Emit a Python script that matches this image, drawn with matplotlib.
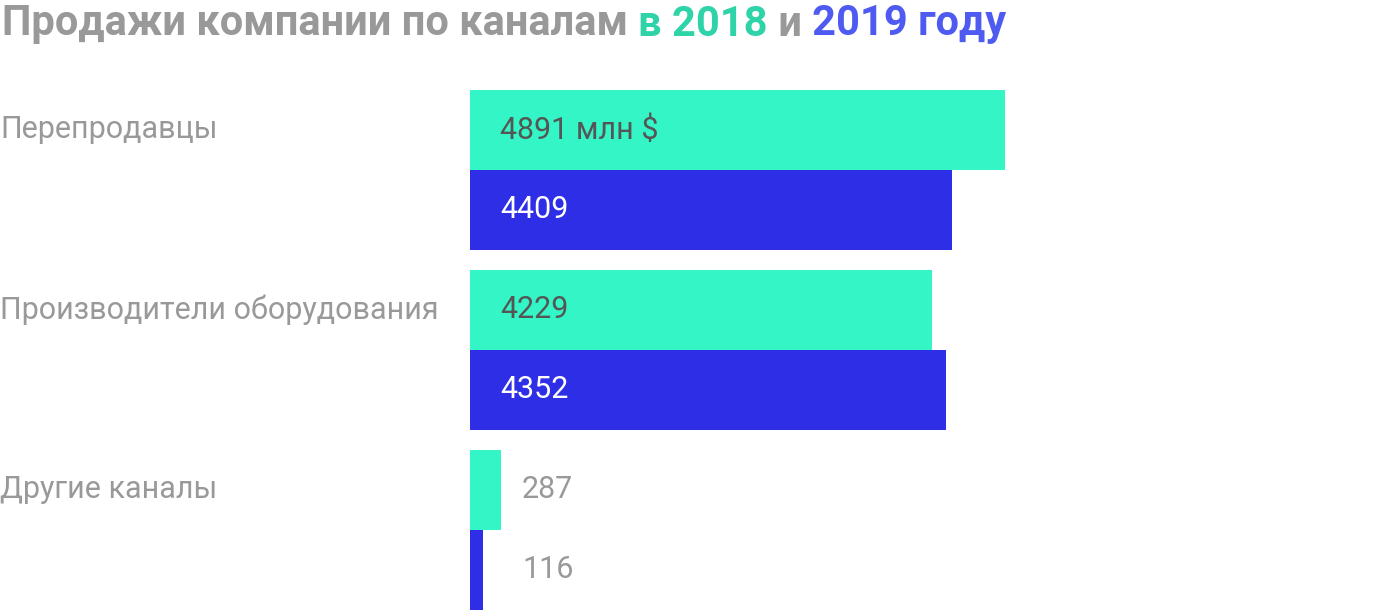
import matplotlib
matplotlib.use("Agg")
import matplotlib.pyplot as plt

plt.rcParams['font.family'] = ['Roboto', 'DejaVu Sans']

categories = ["Перепродавцы", "Производители оборудования", "Другие каналы"]
sales_2018 = [4891, 4229, 287]
sales_2019 = [4409, 4352, 116]
labels_2018 = ["4891 млн $", "4229", "287"]
labels_2019 = ["4409", "4352", "116"]

c18, c19 = "#33F5C5", "#2E2EE6"
W, H = 1400, 612
fig = plt.figure(figsize=(W/100, H/100), dpi=100)
ax = fig.add_axes([470/W, 2/H, 930/W, 520/H])
ax.set_ylim(610, 90)
xmax = 8507
ax.set_xlim(0, xmax)
ax.axis('off')

for i, cat in enumerate(categories):
    y18 = 130 + 180*i
    y19 = y18 + 80
    ax.barh(y18, sales_2018[i], height=80, color=c18, left=0)
    ax.barh(y19, sales_2019[i], height=80, color=c19, left=0)
    for y, v, lab, inside_col in [(y18, sales_2018[i], labels_2018[i], "#555555"),
                                  (y19, sales_2019[i], labels_2019[i], "white")]:
        if v > 1000:
            ax.text(30/930*xmax, y, lab, va='center', ha='left', fontsize=22, color=inside_col)
        else:
            ax.text(52/930*xmax, y, lab, va='center', ha='left', fontsize=22, color="#999999")
    fig.text(0, 1 - y18/H, cat, va='center', ha='left', fontsize=22, color="#999999")

parts = [("Продажи компании по каналам ", "#999999"), ("в 2018", "#2ED3A8"),
         (" и ", "#999999"), ("2019 году", "#4F5BF0")]
fig.canvas.draw()
r = fig.canvas.get_renderer()
x = 2
for s, col in parts:
    t = fig.text(x/W, 1 - 24/H, s, va='center', ha='left', fontsize=30, fontweight='bold', color=col)
    x = t.get_window_extent(r).x1

fig.savefig("out.png", dpi=100)
